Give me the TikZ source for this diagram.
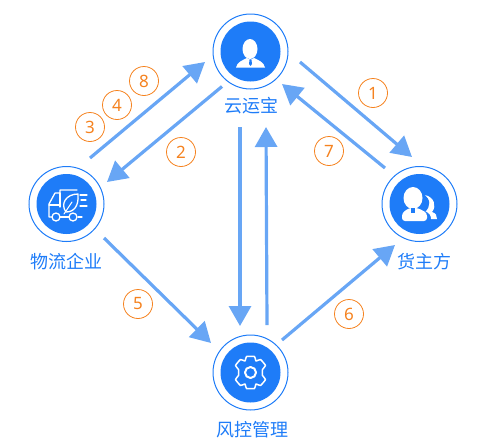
\documentclass[tikz,border=0pt]{standalone}
\usepackage{fontspec}
\newfontfamily\cjk{Noto Sans CJK SC}
\setmainfont{Noto Sans}
\usetikzlibrary{arrows.meta}
\definecolor{hub}{HTML}{1E7CF8}
\definecolor{flowc}{HTML}{68A6F5}
\definecolor{ord}{HTML}{F5821F}
\tikzset{
  x=1pt,y=-1pt,
  hubnode/.style={circle,draw=hub,line width=1pt,minimum size=75pt,inner sep=0pt,path picture={\fill[hub] (path picture bounding box.center) circle[radius=30];}},
  flow/.style={draw=flowc,line width=3.2pt,-{Triangle[length=20pt,width=22pt]}},
  num/.style={circle,draw=ord,line width=0.8pt,minimum size=29pt,inner sep=0pt,text=ord,font=\fontsize{17}{17}\selectfont},
  hublabel/.style={text=hub,font=\cjk\fontsize{18}{20}\selectfont,inner sep=0pt},
  icon/.style={draw=white,line width=1.3pt,line join=round,line cap=round,fill=none}
}
\begin{document}
\begin{tikzpicture}
\useasboundingbox (0,0) rectangle (500,445);
\node[hubnode] (yun) at (250.5,51.5) {};
\node[hubnode] (wu) at (66.5,204) {};
\node[hubnode] (huo) at (419.5,204) {};
\node[hubnode] (feng) at (250.5,372.5) {};
\node[hublabel] (yunl) at (251,106) {云运宝};
\node[hublabel] (wul) at (66,262) {物流企业};
\node[hublabel] (huol) at (424,262) {货主方};
\node[hublabel] (fengl) at (252,430) {风控管理};
% person
\fill[white] (250,49) ellipse[x radius=7.5,y radius=10];
\fill[white] (236,67.5) .. controls (237,62) and (243,60) .. (247,58) -- (250.5,60) -- (254,58) .. controls (258,60) and (264,62) .. (265,67.5) -- cycle;
\fill[hub] (249.5,60) -- (251.5,60) -- (252,64) -- (250.5,66) -- (249,64) -- cycle;
% truck
\draw[icon] (52,217) -- (49,217) -- (49,204) -- (55,193) -- (60,193) -- (60,190) -- (77,190);
\draw[icon] (60,193) -- (60,207) (60,217) -- (69,217) (78,217) -- (82,217);
\draw[icon] (49,205) -- (60,205);
\draw[icon] (56,217) circle[radius=4] (73,217) circle[radius=4];
\draw[icon] (66,212) .. controls (60,204) and (66,194) .. (78,194) .. controls (79,206) and (74,212) .. (66,212) -- cycle;
\draw[icon,line width=1pt] (64,214) -- (72,202);
\draw[icon] (80,195) -- (87,195) (81,200) -- (86,200) (80,206) -- (87,206);
% two people
\fill[white] (425,195) .. controls (434,197) and (437,206) .. (432,212) .. controls (436,213) and (437,216) .. (437,219) -- (431,219) .. controls (431,215) and (429,213) .. (425,211) .. controls (429,206) and (430,200) .. (425,195) -- cycle;
\fill[hub] (423,194) .. controls (431,199) and (431,206) .. (425,212) .. controls (430,214) and (431,216) .. (430,221) -- (423,221) -- cycle;
\fill[white] (413,198) ellipse[x radius=9.5,y radius=11];
\fill[white,rounded corners=3pt] (402,221) -- (402,213) -- (409,208) -- (418,208) -- (427,213) -- (427,221) -- cycle;
\fill[hub] (411,208) rectangle (415,213);
% gear
\begin{scope}[shift={(feng.center)}]
\draw[icon,line width=1.5pt] plot[smooth cycle,tension=.25] coordinates {(-4,-16) (4,-16) (5.5,-11.5) (10,-13) (15,-7) (12,-3) (12,3) (15,7) (10,13) (5.5,11.5) (4,16) (-4,16) (-5.5,11.5) (-10,13) (-15,7) (-12,3) (-12,-3) (-15,-7) (-10,-13) (-5.5,-11.5)};
\draw[icon,line width=2pt] (0,0) circle[radius=5.5];
\end{scope}
% connectors
\draw[flow] ([shift={(49.5,10.5)}]yun.center) -- ([shift={(-7.5,-47)}]huo.center);
\draw[flow] ([shift={(-34.5,-36)}]huo.center) -- ([shift={(31.5,32.5)}]yun.center);
\draw[flow] ([shift={(-28.5,35)}]yun.center) -- ([shift={(40.5,-22)}]wu.center);
\draw[flow] ([shift={(23.5,-46)}]wu.center) -- ([shift={(-45.5,10.5)}]yun.center);
\draw[flow] ([shift={(-10.5,75.5)}]yun.center) -- ([shift={(-10.5,-46.5)}]feng.center);
\draw[flow] ([shift={(16.5,-47.5)}]feng.center) -- ([shift={(15.5,75.5)}]yun.center);
\draw[flow] ([shift={(37.5,34)}]wu.center) -- ([shift={(-39.5,-29.5)}]feng.center);
\draw[flow] ([shift={(31.5,-32.5)}]feng.center) -- ([shift={(-24.5,41)}]huo.center);
% order numbers
\node[num] (n1) at (373,93) {1};
\node[num] (n2) at (181,152) {2};
\node[num] (n3) at (90,127) {3};
\node[num] (n4) at (117,105) {4};
\node[num] (n5) at (138,304) {5};
\node[num] (n6) at (349,314) {6};
\node[num] (n7) at (329,151) {7};
\node[num] (n8) at (144,81) {8};
\end{tikzpicture}
\end{document}
